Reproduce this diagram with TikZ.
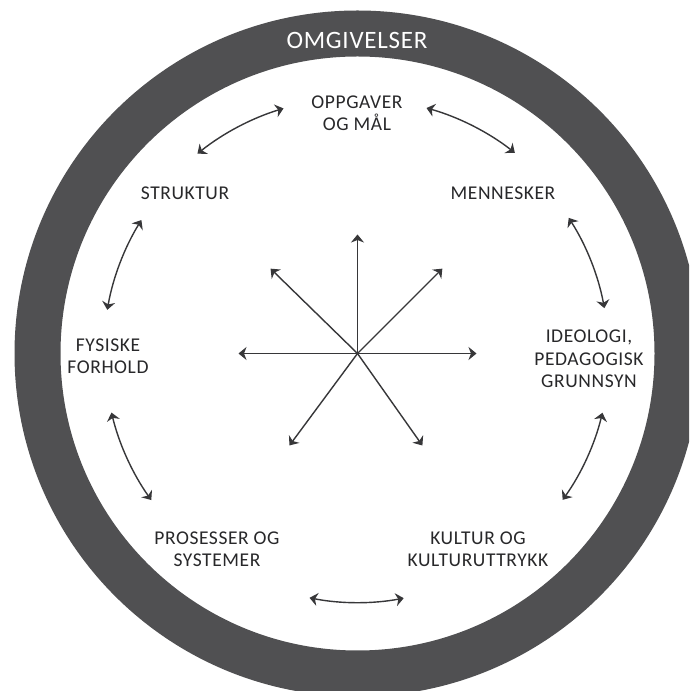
\documentclass[tikz,border=0pt]{standalone}
\usepackage{fontspec}
\setmainfont{Carlito}
\newfontfamily\labfont[LetterSpace=3]{Carlito}
\usetikzlibrary{arrows.meta,calc}
\definecolor{ringgray}{RGB}{80,80,82}
\definecolor{inkgray}{RGB}{55,55,57}
\definecolor{txtgray}{RGB}{40,40,42}
\begin{document}
\begin{tikzpicture}[x=1pt,y=1pt,
  link/.style={draw=inkgray,line width=1.4pt,{Stealth[length=8pt,width=13pt,inset=2.5pt]}-{Stealth[length=8pt,width=13pt,inset=2.5pt]}},
  ray/.style={draw=inkgray,line width=1.4pt,-{Stealth[length=8pt,width=13pt,inset=2.5pt]}},
  lab/.style={text=txtgray,font=\labfont\fontsize{19.5}{22.4}\selectfont,align=center,inner sep=0pt},
  titlelab/.style={text=white,font=\labfont\fontsize{25}{28}\selectfont,inner sep=0pt}]
\useasboundingbox (0,0) rectangle (689,691);
\clip (0,0) rectangle (689,691);
\fill[white] (0,0) rectangle (689,691);
\coordinate (c) at (357.5,337.5);
\fill[ringgray,even odd rule] (c) circle[radius=343] (c) circle[radius=297];
\node[titlelab] (omg) at (357,651) {OMGIVELSER};
% labels
\node[lab] (opp) at (357,578) {OPPGAVER\\OG MÅL};
\node[lab] (str) at (185,498) {STRUKTUR};
\node[lab] (men) at (503,498) {MENNESKER};
\node[lab] (fys) at (108,334.5) {FYSISKE\\FORHOLD};
\node[lab] (ide) at (589,332) {IDEOLOGI,\\PEDAGOGISK\\GRUNNSYN};
\node[lab] (pro) at (217,141.5) {PROSESSER OG\\SYSTEMER};
\node[lab] (kul) at (478,141.5) {KULTUR OG\\KULTURUTTRYKK};
% star
\coordinate (sN) at ($(c)+(90:119)$);
\coordinate (sE) at ($(c)+(0:119)$);
\coordinate (sW) at ($(c)+(180:119)$);
\coordinate (sNW) at ($(c)+(135.7:121.5)$);
\coordinate (sNE) at ($(c)+(45:120)$);
\coordinate (sSW) at ($(c)+(233.5:114.4)$);
\coordinate (sSE) at ($(c)+(-54.8:112.6)$);
\foreach \t in {sN,sE,sW,sNW,sNE,sSW,sSE} \draw[ray] (c) -- (\t);
% arcs between labels
\coordinate (a1) at ($(c)+(128.7:256)$);
\draw[link] (a1) arc[start angle=128.7,end angle=106.8,radius=256];
\coordinate (a2) at ($(c)+(74.3:255)$);
\draw[link] (a2) arc[start angle=74.3,end angle=51.9,radius=255];
\coordinate (a3) at ($(c)+(32.7:251)$);
\draw[link] (a3) arc[start angle=32.7,end angle=10.4,radius=251];
\coordinate (a4) at ($(c)+(-13.6:252)$);
\draw[link] (a4) arc[start angle=-13.6,end angle=-35.5,radius=252];
\coordinate (a5) at ($(c)+(-101.1:249)$);
\draw[link] (a5) arc[start angle=-101.1,end angle=-79.3,radius=249];
\coordinate (a6) at ($(c)+(-144.6:253)$);
\draw[link] (a6) arc[start angle=-144.6,end angle=-166.5,radius=253];
\coordinate (a7) at ($(c)+(170.1:254)$);
\draw[link] (a7) arc[start angle=170.1,end angle=148.3,radius=254];
\end{tikzpicture}
\end{document}
